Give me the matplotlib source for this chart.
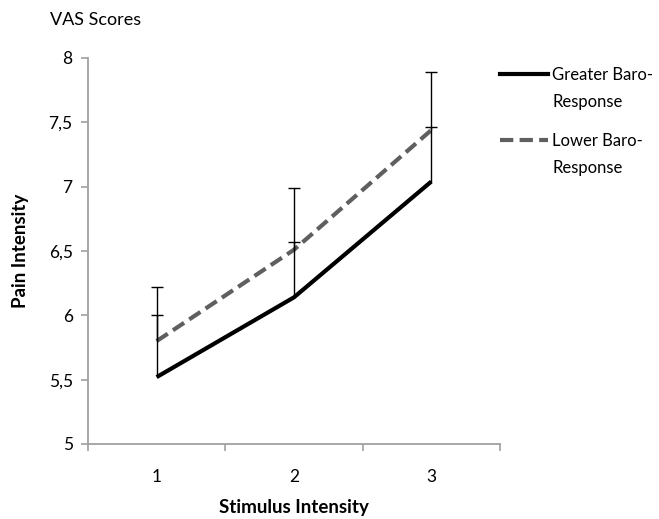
import matplotlib
matplotlib.use("Agg")
import matplotlib.pyplot as plt
from matplotlib.lines import Line2D

categories = ["1", "2", "3"]
greater = [5.52, 6.14, 7.04]
greater_err = [0.48, 0.43, 0.42]
lower = [5.80, 6.51, 7.44]
lower_err = [0.42, 0.48, 0.45]
yticks = [5, 5.5, 6, 6.5, 7, 7.5, 8]
ytick_labels = ["5", "5,5", "6", "6,5", "7", "7,5", "8"]
series_labels = ["Greater Baro-\nResponse", "Lower Baro-\nResponse"]

plt.rcParams['font.family'] = ['Lato', 'DejaVu Sans']

fig = plt.figure(figsize=(6.59, 5.19), dpi=100)
ax = fig.add_axes([88/659, 1-444/519, (500-88)/659, (444-58)/519])

x = list(range(1, len(categories)+1))
grey = '#5f5f5f'
ax.plot(x, greater, color='black', lw=3.0, solid_capstyle='butt', zorder=3)
ax.plot(x, lower, color=grey, lw=3.0, linestyle=(0, (3.2, 1.5)), zorder=3)
for vals, errs in [(greater, greater_err), (lower, lower_err)]:
    tops = [v + e for v, e in zip(vals, errs)]
    ax.vlines(x, vals, tops, color='black', lw=1.0, zorder=4)
    ax.plot(x, tops, linestyle='none', marker='_', markersize=9,
            markeredgewidth=1.0, color='black', zorder=4)

ax.set_xlim(0.5, 3.5)
ax.set_ylim(5, 8)
ax.set_yticks(yticks)
ax.set_yticklabels(ytick_labels, fontsize=12.5)
ax.set_xticks(x)
ax.set_xticklabels(categories, fontsize=12.5)
ax.set_xticks([0.5, 1.5, 2.5, 3.5], minor=True)
ax.tick_params(axis='x', which='major', length=0, pad=18)
ax.tick_params(axis='x', which='minor', length=5, color='#a0a0a0', width=1.2, direction='out')
ax.tick_params(axis='y', length=5, color='#a0a0a0', width=1.2, pad=6)
for s in ['top', 'right']:
    ax.spines[s].set_visible(False)
for s in ['left', 'bottom']:
    ax.spines[s].set_color('#a0a0a0')
    ax.spines[s].set_linewidth(1.3)

ax.set_xlabel("Stimulus Intensity", fontsize=13.5, fontweight='bold', labelpad=10)
ax.set_ylabel("Pain Intensity", fontsize=13.5, fontweight='bold', labelpad=14)
fig.text(50/659, 1-20/519, "VAS Scores", fontsize=13, va='center', ha='left')

# legend
for yy, style, col, lab in [(74, '-', 'black', series_labels[0]),
                            (140, (0, (3.2, 1.5)), grey, series_labels[1])]:
    fig.add_artist(Line2D([500/659, 548/659], [1-yy/519]*2, color=col, lw=3.0,
                          linestyle=style, transform=fig.transFigure))
    l1, l2 = lab.split("\n")
    fig.text(552/659, 1-(yy+1)/519, l1 + "", fontsize=12, va='center', ha='left')
    fig.text(552/659, 1-(yy+28)/519, l2, fontsize=12, va='center', ha='left')

fig.savefig("out.png", dpi=100)
